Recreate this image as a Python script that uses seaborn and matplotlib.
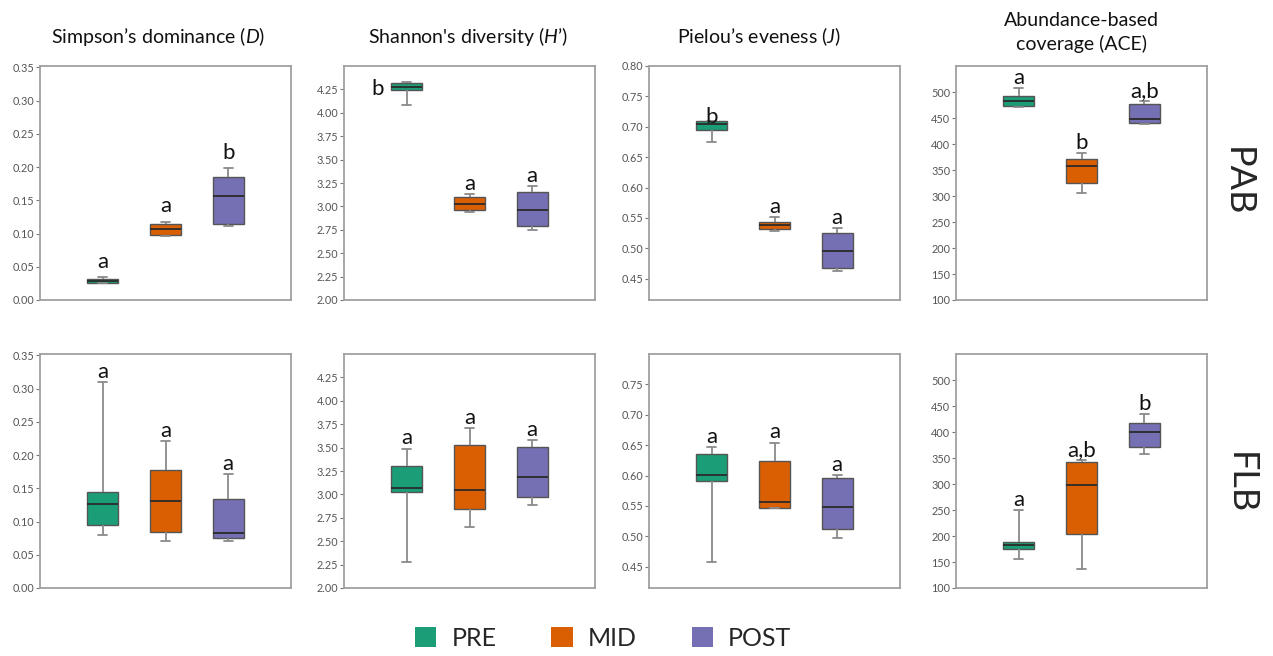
import matplotlib
matplotlib.use("Agg")
import matplotlib.pyplot as plt
from matplotlib.patches import Patch
import numpy as np
import pandas as pd
import seaborn as sns

# five-number summaries: [low whisker, Q1, median, Q3, high whisker]
groups = ["PRE", "MID", "POST"]
colors = ["#1b9e77", "#d95f02", "#7570b3"]

simpson_pab = {"PRE": [0.025, 0.026, 0.028, 0.031, 0.034],
               "MID": [0.096, 0.098, 0.107, 0.115, 0.117],
               "POST": [0.112, 0.114, 0.156, 0.185, 0.198]}
shannon_pab = {"PRE": [4.086, 4.24, 4.28, 4.32, 4.325],
               "MID": [2.94, 2.96, 3.025, 3.10, 3.136],
               "POST": [2.743, 2.786, 2.96, 3.157, 3.221]}
pielou_pab = {"PRE": [0.6755, 0.695, 0.7046, 0.709, 0.710],
              "MID": [0.529, 0.5316, 0.538, 0.543, 0.5516],
              "POST": [0.462, 0.4677, 0.4962, 0.5259, 0.5339]}
ace_pab = {"PRE": [472, 473.5, 483, 493, 508],
           "MID": [306, 325, 359, 372, 383],
           "POST": [439, 441.7, 448, 477, 483]}

simpson_flb = {"PRE": [0.079, 0.0955, 0.1265, 0.1438, 0.310],
               "MID": [0.071, 0.0847, 0.131, 0.1777, 0.2216],
               "POST": [0.070, 0.0748, 0.0832, 0.1334, 0.1718]}
shannon_flb = {"PRE": [2.273, 3.022, 3.072, 3.299, 3.49],
               "MID": [2.653, 2.845, 3.047, 3.533, 3.71],
               "POST": [2.887, 2.969, 3.182, 3.505, 3.576]}
pielou_flb = {"PRE": [0.4585, 0.5904, 0.6006, 0.6356, 0.6468],
              "MID": [0.5459, 0.5459, 0.556, 0.6243, 0.6542],
              "POST": [0.4979, 0.512, 0.5481, 0.5966, 0.6006]}
ace_flb = {"PRE": [155, 174.4, 182, 189, 249.4],
           "MID": [137.5, 204.3, 298.4, 342.9, 346.7],
           "POST": [358.8, 372.2, 400.2, 417.3, 435.1]}

letters_pab = [["a", "a", "b"], ["b", "a", "a"], ["b", "a", "a"], ["a", "b", "a,b"]]
letters_flb = [["a", "a", "a"], ["a", "a", "a"], ["a", "a", "a"], ["a", "a,b", "b"]]

titles = ["Simpson\u2019s dominance ($\\mathit{D}$)",
          "Shannon's diversity ($\\mathit{H}$\u2019)",
          "Pielou\u2019s eveness ($\\mathit{J}$)",
          "Abundance-based\ncoverage (ACE)"]
row_labels = ["PAB", "FLB"]

ylims = [(0, 0.352), (2.0, 4.5), (0.415, 0.80), (100, 551)]
yticks_pab = [np.arange(0, 0.351, 0.05), np.arange(2.0, 4.26, 0.25),
              np.arange(0.45, 0.801, 0.05), np.arange(100, 501, 50)]
yticks_flb = [np.arange(0, 0.351, 0.05), np.arange(2.0, 4.26, 0.25),
              np.arange(0.45, 0.751, 0.05), np.arange(100, 501, 50)]
tick_fmt = ["{:.2f}", "{:.2f}", "{:.2f}", "{:.0f}"]

sns.set_style("white")
plt.rcParams["font.family"] = ["Lato", "DejaVu Sans"]
plt.rcParams["mathtext.fontset"] = "custom"
plt.rcParams["mathtext.rm"] = "Lato"
plt.rcParams["mathtext.it"] = "Lato:italic"

W, H = 1273, 656
fig = plt.figure(figsize=(W / 100, H / 100), dpi=100)

col_left = [40, 344, 649, 956]
row_top = [66, 354]
ax_w, ax_h = 251, 234

# letter offsets in points (dx, dy) from the top whisker, default (0, 3)
letter_offsets = {(0, 0): (0, 7), (0, 1): (0, 7), (0, 2): (0, 7),
                  (1, 0): (-21, -9), (2, 0): (0, -1.5)}

rows = [[simpson_pab, shannon_pab, pielou_pab, ace_pab],
        [simpson_flb, shannon_flb, pielou_flb, ace_flb]]
letters = [letters_pab, letters_flb]
yticks = [yticks_pab, yticks_flb]

for r in range(2):
    for c in range(4):
        rect = [col_left[c] / W, 1 - (row_top[r] + ax_h) / H, ax_w / W, ax_h / H]
        ax = fig.add_axes(rect)
        d = rows[r][c]
        df = pd.DataFrame({"group": np.repeat(groups, 5),
                           "value": np.concatenate([d[g] for g in groups])})
        sns.boxplot(data=df, x="group", y="value", hue="group", order=groups,
                    hue_order=groups, palette=colors, saturation=1, whis=(0, 100),
                    width=0.5, linecolor="#555555", linewidth=1.0, legend=False, ax=ax,
                    whiskerprops=dict(color="#8a8a8a", linewidth=1.3),
                    capprops=dict(color="#8a8a8a", linewidth=1.3),
                    medianprops=dict(color="#2a2a2a", linewidth=1.3),
                    capwidths=0.15)
        ax.set_xlim(-1, 3)
        ax.set_ylim(*ylims[c])
        ax.set_yticks(yticks[r][c])
        ax.set_yticklabels([tick_fmt[c].format(v) for v in yticks[r][c]])
        ax.set_xticks([])
        ax.set_xlabel("")
        ax.set_ylabel("")
        ax.tick_params(axis="y", direction="out", length=3, width=0.8,
                       color="#777777", labelsize=7.8, labelcolor="#555555", pad=1, left=True)
        for s in ax.spines.values():
            s.set_color("#a0a0a0")
            s.set_linewidth(1.3)
        for i, g in enumerate(groups):
            dx, dy = letter_offsets.get((c, i), (0, 3)) if r == 0 else (0, 3)
            ax.annotate(letters[r][c][i], xy=(i, max(d[g])), xytext=(dx, dy),
                        textcoords="offset points", ha="center", va="baseline",
                        fontsize=16, color="#111111")
        if r == 0:
            tx = [0.47, 0.494, 0.44, 0.5][c]
            ty = 1.143 if c == 3 else 1.124
            ax.text(tx, ty, titles[c], transform=ax.transAxes, ha="center",
                    va="center", fontsize=14, linespacing=1.45, color="#111111")

fig.text(1237 / W, 1 - 182 / H, row_labels[0], rotation=-90, ha="center",
         va="center", fontsize=26)
fig.text(1240 / W, 1 - 483 / H, row_labels[1], rotation=-90, ha="center",
         va="center", fontsize=26)

handles = [Patch(facecolor=col, edgecolor="none") for col in colors]
fig.legend(handles, groups, loc="center", bbox_to_anchor=(603 / W, 1 - 638 / H),
           ncol=3, frameon=False, fontsize=18, handlelength=0.85, handleheight=0.85,
           handletextpad=0.6, columnspacing=2.2)

fig.savefig("out.png", dpi=100)
